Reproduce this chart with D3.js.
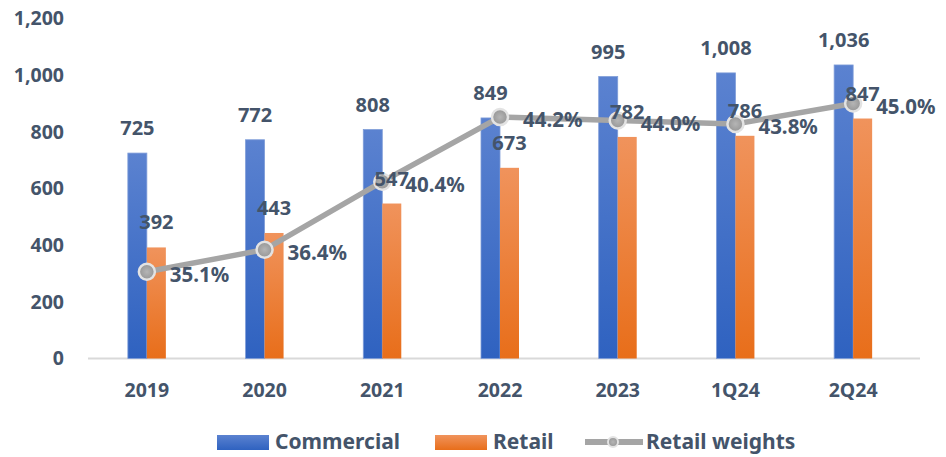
<!DOCTYPE html>
<html>
<head>
<meta charset="utf-8">
<script src="https://cdn.jsdelivr.net/npm/d3@7"></script>
<style>
  body { margin: 0; background: #fff; }
  text { font-family: "Noto Sans", "Open Sans", sans-serif; font-weight: bold; fill: #44546A; }
</style>
</head>
<body>
<div id="chart"></div>
<script>
// chart data
var categories = ["2019", "2020", "2021", "2022", "2023", "1Q24", "2Q24"];
var commercial = [725, 772, 808, 849, 995, 1008, 1036];
var retail = [392, 443, 547, 673, 782, 786, 847];
var retail_weights = [35.1, 36.4, 40.4, 44.2, 44.0, 43.8, 45.0];
var y_ticks = [0, 200, 400, 600, 800, 1000, 1200];

var width = 946, height = 457;
var margin = {top: 18.5, left: 88, right: 34, bottom: 98.5};

var svg = d3.select("#chart").append("svg")
  .attr("width", width).attr("height", height);

var defs = svg.append("defs");
function gradient(id, top, bottom) {
  var g = defs.append("linearGradient").attr("id", id)
    .attr("x1", 0).attr("y1", 0).attr("x2", 0).attr("y2", 1);
  g.append("stop").attr("offset", "0%").attr("stop-color", top);
  g.append("stop").attr("offset", "100%").attr("stop-color", bottom);
}
gradient("blueGrad", "#5B82D0", "#2F62C0");
gradient("orangeGrad", "#F0935C", "#E86E1A");
var mg = defs.append("radialGradient").attr("id", "markGrad");
mg.append("stop").attr("offset", "0%").attr("stop-color", "#B5B5B5");
mg.append("stop").attr("offset", "100%").attr("stop-color", "#969696");

var x = d3.scaleBand().domain(categories)
  .range([margin.left, width - margin.right]);
var y = d3.scaleLinear().domain([0, 1200])
  .range([height - margin.bottom, margin.top]);
// hidden secondary axis for the weights line
var y2 = d3.scaleLinear().domain([30, 50])
  .range([height - margin.bottom, margin.top]);

var barW = 19;

// y axis labels
svg.append("g").selectAll("text").data(y_ticks).join("text")
  .attr("x", 64).attr("y", d => y(d)).attr("dy", "0.35em")
  .attr("text-anchor", "end").style("font-size", "19.5px")
  .text(d => d3.format(",")(d));

// baseline
svg.append("line")
  .attr("x1", margin.left).attr("x2", width - 26)
  .attr("y1", y(0)).attr("y2", y(0))
  .attr("stroke", "#D9D9D9").attr("stroke-width", 2);

// bars
var cx = d => x(d) + x.bandwidth() / 2;
svg.append("g").selectAll("rect").data(categories).join("rect")
  .attr("x", d => cx(d) - barW).attr("width", barW)
  .attr("y", (d, i) => y(commercial[i]))
  .attr("height", (d, i) => y(0) - y(commercial[i]))
  .attr("fill", "url(#blueGrad)").attr("stroke", "#7E9CD8").attr("stroke-width", 0.8);
svg.append("g").selectAll("rect").data(categories).join("rect")
  .attr("x", d => cx(d)).attr("width", barW)
  .attr("y", (d, i) => y(retail[i]))
  .attr("height", (d, i) => y(0) - y(retail[i]))
  .attr("fill", "url(#orangeGrad)");

// category labels
svg.append("g").selectAll("text").data(categories).join("text")
  .attr("x", cx).attr("y", 390).attr("dy", "0.35em")
  .attr("text-anchor", "middle").style("font-size", "19.5px")
  .text(d => d);

// line
var line = d3.line().x((d, i) => cx(categories[i])).y(d => y2(d));
svg.append("path").datum(retail_weights)
  .attr("d", line).attr("fill", "none")
  .attr("stroke", "#A5A5A5").attr("stroke-width", 5.5);
svg.append("g").selectAll("circle").data(retail_weights).join("circle")
  .attr("cx", (d, i) => cx(categories[i])).attr("cy", d => y2(d))
  .attr("r", 8).attr("fill", "url(#markGrad)")
  .attr("stroke", "#E3E3E3").attr("stroke-width", 2.5);

// value labels
svg.append("g").selectAll("text").data(commercial).join("text")
  .attr("x", (d, i) => cx(categories[i]) - barW / 2)
  .attr("y", d => y(d) - 25).attr("dy", "0.35em")
  .attr("text-anchor", "middle").style("font-size", "20px")
  .text(d => d3.format(",")(d));
svg.append("g").selectAll("text").data(retail).join("text")
  .attr("x", (d, i) => cx(categories[i]) + barW / 2)
  .attr("y", d => y(d) - 25).attr("dy", "0.35em")
  .attr("text-anchor", "middle").style("font-size", "20px")
  .text(d => d3.format(",")(d));
svg.append("g").selectAll("text").data(retail_weights).join("text")
  .attr("x", (d, i) => cx(categories[i]) + 23)
  .attr("y", d => y2(d) + 3).attr("dy", "0.35em")
  .attr("text-anchor", "start").style("font-size", "20.5px")
  .text(d => d.toFixed(1) + "%");

// legend
var lg = svg.append("g").attr("transform", "translate(0,442)");
lg.append("rect").attr("x", 217).attr("y", -7).attr("width", 52).attr("height", 15)
  .attr("fill", "url(#blueGrad)");
lg.append("text").attr("x", 275).attr("dy", "0.35em").style("font-size", "21px").text("Commercial");
lg.append("rect").attr("x", 435).attr("y", -7).attr("width", 52).attr("height", 15)
  .attr("fill", "url(#orangeGrad)");
lg.append("text").attr("x", 493).attr("dy", "0.35em").style("font-size", "21px").text("Retail");
lg.append("line").attr("x1", 585).attr("x2", 643).attr("y1", 0).attr("y2", 0)
  .attr("stroke", "#A5A5A5").attr("stroke-width", 6);
lg.append("circle").attr("cx", 613).attr("r", 5)
  .attr("fill", "url(#markGrad)").attr("stroke", "#E3E3E3").attr("stroke-width", 2);
lg.append("text").attr("x", 646).attr("dy", "0.35em").style("font-size", "21px").text("Retail weights");
</script>
</body>
</html>
